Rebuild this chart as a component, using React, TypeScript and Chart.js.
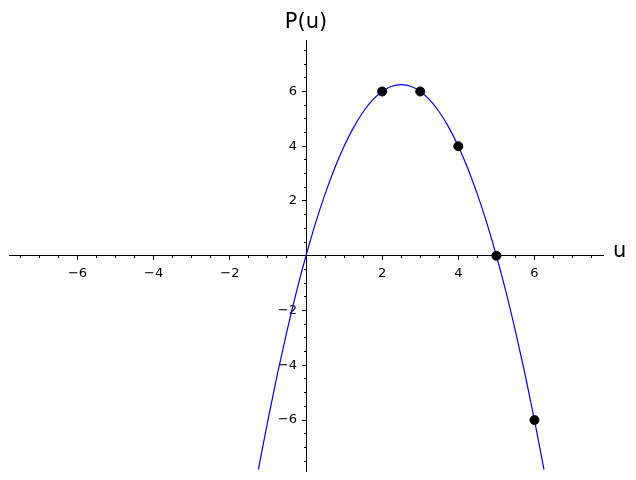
import React, { useEffect, useRef } from "react";
import { Chart, registerables } from "chart.js";

Chart.register(...registerables);

const curveU = [-1.25, -1, -0.75, -0.5, -0.25, 0, 0.25, 0.5, 0.75, 1, 1.25, 1.5, 1.75, 2, 2.25, 2.5, 2.75, 3, 3.25, 3.5, 3.75, 4, 4.25, 4.5, 4.75, 5, 5.25, 5.5, 5.75, 6, 6.25];
const curveP = [-7.81, -6, -4.31, -2.75, -1.31, 0, 1.19, 2.25, 3.19, 4, 4.69, 5.25, 5.69, 6, 6.19, 6.25, 6.19, 6, 5.69, 5.25, 4.69, 4, 3.19, 2.25, 1.19, 0, -1.31, -2.75, -4.31, -6, -7.81];

// Marked points
const pointU = [2, 3, 4, 5, 6];
const pointP = [6, 6, 4, 0, -6];

// Axis ranges and ticks
const xRange = [-7.8, 7.8];
const yRange = [-7.88, 7.88];
const majorStep = 2;
const minorStep = 0.5;

const xAxisLabel = "u";
const yAxisLabel = "P(u)";

const FONT = "'DejaVu Sans', sans-serif";

const fmt = (v: number) => {
  if (Math.abs(v) < 1e-9) return "";
  return v < 0 ? "\u2212" + String(Math.abs(v)) : String(v);
};

const axisTitles = {
  id: "axisTitles",
  beforeDraw(chart: any) {
    // y tick labels of a chartArea-positioned axis sit on the axis line; move them left of the ticks
    const items = chart.scales.y.getLabelItems();
    if (!(items as any)._shifted) {
      items.forEach((it: any) => {
        it.options.translation[0] -= 9;
      });
      (items as any)._shifted = true;
    }
  },
  afterDraw(chart: any) {
    const { ctx, scales } = chart;
    const x0 = scales.x.getPixelForValue(0);
    const y0 = scales.y.getPixelForValue(0);
    ctx.save();
    ctx.fillStyle = "#000";
    ctx.font = `21px ${FONT}`;
    ctx.textAlign = "center";
    ctx.textBaseline = "alphabetic";
    ctx.fillText(yAxisLabel, x0, 28);
    ctx.textAlign = "left";
    ctx.textBaseline = "middle";
    ctx.fillText(xAxisLabel, chart.chartArea.right + 10, y0 - 4);
    ctx.restore();
  },
};

export default function App() {
  const ref = useRef<HTMLCanvasElement | null>(null);

  useEffect(() => {
    if (!ref.current) return;
    Chart.defaults.font.family = FONT;
    Chart.defaults.color = "#000";

    const majorGrid = {
      display: true,
      drawOnChartArea: false,
      drawTicks: true,
      tickLength: 4,
      color: "#000",
      tickColor: "#000",
      lineWidth: 1,
    };
    const minorGrid = { ...majorGrid, tickLength: 2 };

    const chart = new Chart(ref.current, {
      type: "scatter",
      data: {
        datasets: [
          {
            label: "points",
            data: pointU.map((u, i) => ({ x: u, y: pointP[i] })),
            backgroundColor: "#000",
            borderColor: "#000",
            pointRadius: 4.5,
            borderWidth: 1,
            showLine: false,
            xAxisID: "x",
            yAxisID: "y",
          },
          {
            label: "P(u)",
            data: curveU.map((u, i) => ({ x: u, y: curveP[i] })),
            borderColor: "#0000ff",
            backgroundColor: "#0000ff",
            borderWidth: 1.2,
            pointRadius: 0,
            showLine: true,
            cubicInterpolationMode: "monotone",
            xAxisID: "x",
            yAxisID: "y",
          } as any,
        ],
      },
      options: {
        animation: false,
        responsive: false,
        devicePixelRatio: 1,
        layout: { padding: { left: 9, right: 33, top: 40, bottom: 8.5 } },
        plugins: { legend: { display: false }, tooltip: { enabled: false } },
        scales: {
          x: {
            type: "linear",
            min: xRange[0],
            max: xRange[1],
            position: { y: 0 } as any,
            grid: majorGrid as any,
            border: { display: true, color: "#000", width: 1 },
            ticks: {
              stepSize: majorStep,
              includeBounds: false,
              autoSkip: false,
              maxRotation: 0,
              padding: 6,
              font: { size: 13, family: FONT },
              callback: (v: any) => fmt(Number(v)),
            },
          },
          y: {
            type: "linear",
            min: yRange[0],
            max: yRange[1],
            position: { x: 0 } as any,
            grid: majorGrid as any,
            border: { display: true, color: "#000", width: 1 },
            ticks: {
              stepSize: majorStep,
              includeBounds: false,
              autoSkip: false,
              padding: 0,
              font: { size: 13, family: FONT },
              callback: (v: any) => fmt(Number(v)),
            },
          },
          x2: {
            type: "linear",
            axis: "x",
            min: xRange[0],
            max: xRange[1],
            position: { y: 0 } as any,
            grid: minorGrid as any,
            border: { display: false },
            ticks: { stepSize: minorStep, includeBounds: false, display: false },
          } as any,
          y2: {
            type: "linear",
            axis: "y",
            min: yRange[0],
            max: yRange[1],
            position: { x: 0 } as any,
            grid: minorGrid as any,
            border: { display: false },
            ticks: { stepSize: minorStep, includeBounds: false, display: false },
          } as any,
        },
      },
      plugins: [axisTitles],
    });
    return () => chart.destroy();
  }, []);

  return (
    <div style={{ position: "fixed", left: 0, top: 0, width: 636, height: 480, background: "#fff" }}>
      <canvas ref={ref} width={636} height={480} style={{ display: "block" }} />
    </div>
  );
}
